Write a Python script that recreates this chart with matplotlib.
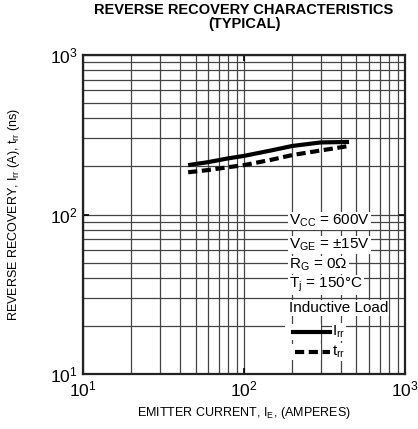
import matplotlib.pyplot as plt
from matplotlib.ticker import LogLocator, NullFormatter

plt.rcParams['font.family'] = ['Liberation Sans', 'DejaVu Sans']
plt.rcParams['mathtext.fontset'] = 'custom'
plt.rcParams['mathtext.rm'] = 'Liberation Sans'
plt.rcParams['mathtext.it'] = 'Liberation Sans'

# emitter current (A)
ie = [45, 60, 80, 100, 150, 200, 300, 450]
# reverse recovery current I_rr (A)
irr = [204, 213, 225, 233, 253, 269, 283, 285]
# reverse recovery time t_rr (ns)
trr = [184, 190, 198, 204, 221, 236, 252, 269]

conditions = ["$\\mathregular{V_{CC}}$ = 600V",
              "$\\mathregular{V_{GE}}$ = ±15V",
              "$\\mathregular{R_G}$ = 0Ω",
              "$\\mathregular{T_j}$ = 150°C",
              "Inductive Load"]

fig = plt.figure(figsize=(4.18, 4.29), dpi=100)
ax = fig.add_axes([0.1986, 0.1282, 0.770, 0.7436])

ax.set_xscale('log')
ax.set_yscale('log')
ax.set_xlim(10, 1000)
ax.set_ylim(10, 1000)

ax.xaxis.set_minor_locator(LogLocator(base=10, subs=range(2, 10)))
ax.yaxis.set_minor_locator(LogLocator(base=10, subs=range(2, 10)))
ax.xaxis.set_minor_formatter(NullFormatter())
ax.yaxis.set_minor_formatter(NullFormatter())
ax.grid(True, which='both', color='#444444', lw=0.9)
ax.tick_params(which='both', direction='in', top=True, right=True, labelsize=12.5)
ax.tick_params(which='minor', length=0)
ax.tick_params(which='major', length=4, width=1.2, pad=4)
for s in ax.spines.values():
    s.set_linewidth(1.6)
    s.set_color('#222222')

ax.plot(ie, irr, color='black', lw=3, solid_capstyle='butt', zorder=3)
ax.plot(ie, trr, color='black', lw=3, ls=(0, (2.2, 1.1)), dash_capstyle='butt', zorder=3)

# condition box
fs = 11
box = dict(facecolor='white', edgecolor='none', pad=0.8)
tx = 0.64
ys = [0.48, 0.404, 0.342, 0.279, 0.207]
for y, t in zip(ys, conditions):
    ax.text(tx, y, t, transform=ax.transAxes, fontsize=fs, va='center', ha='left',
            bbox=box, zorder=4)
for y in [0.132, 0.069]:
    ax.text(tx - 0.01, y, "        ", transform=ax.transAxes, fontsize=fs, va='center',
            bbox=box, zorder=4)
ax.plot([0.652, 0.767], [0.132, 0.132], transform=ax.transAxes, color='black', lw=3, zorder=5)
ax.plot([0.658, 0.767], [0.069, 0.069], transform=ax.transAxes, color='black', lw=3,
        ls=(0, (2.2, 1.1)), zorder=5)
ax.text(0.775, 0.132, "$\\mathregular{I_{rr}}$", transform=ax.transAxes, fontsize=fs,
        va='center', ha='left', bbox=dict(facecolor='white', edgecolor='none', pad=0.3), zorder=4)
ax.text(0.775, 0.069, "$\\mathregular{t_{rr}}$", transform=ax.transAxes, fontsize=fs,
        va='center', ha='left', bbox=dict(facecolor='white', edgecolor='none', pad=0.3), zorder=4)

ax.set_xlabel("EMITTER CURRENT, $\\mathregular{I_E}$, (AMPERES)", fontsize=9)
ax.set_ylabel("REVERSE RECOVERY, $\\mathregular{I_{rr}}$ (A), $\\mathregular{t_{rr}}$ (ns)",
              fontsize=9)
ax.xaxis.set_label_coords(0.5, -0.097)
ax.yaxis.set_label_coords(-0.19, 0.5)
fig.text(0.584, 0.960, "REVERSE RECOVERY CHARACTERISTICS\n(TYPICAL)", fontsize=10.5,
         fontweight='bold', ha='center', va='center', linespacing=0.95)

fig.savefig('out.png', dpi=100)
